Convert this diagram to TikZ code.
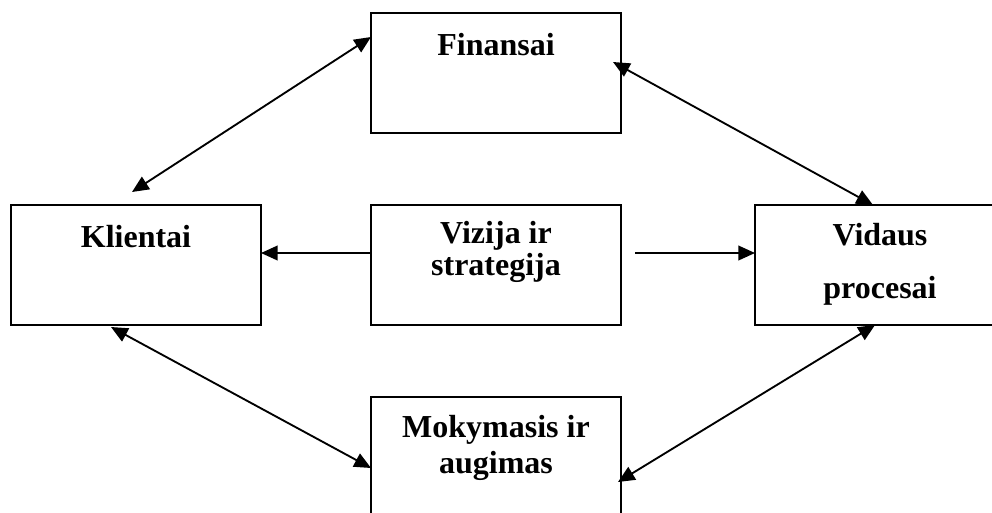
\documentclass[tikz,border=0pt]{standalone}
\usepackage{fontspec}
\setmainfont{Liberation Serif}
\usetikzlibrary{arrows.meta,calc}
\begin{document}
\begin{tikzpicture}[x=0.75pt,y=-0.75pt,
  >={Triangle[length=12.5pt,width=11pt]},
  box/.style={draw, line width=1.4pt, rectangle, minimum width=187.5pt, minimum height=90pt, inner sep=0pt, outer sep=0pt},
  lbl/.style={anchor=base, inner sep=0pt, font=\bfseries\fontsize{24}{28}\selectfont},
  dbl/.style={line width=1.4pt, <->},
  sgl/.style={line width=1.4pt, ->}]
\useasboundingbox (0,0) rectangle (992,512);
\clip (0,0) rectangle (992,512);
\node[box] (fin) at (496,73) {};
\node[box] (kli) at (136,265) {};
\node[box] (viz) at (496,265) {};
\node[box] (vid) at (880,265) {};
\node[box] (mok) at (496,457) {};
\node[lbl] (fint) at (496,55) {Finansai};
\node[lbl] (klit) at (136,247) {Klientai};
\node[lbl] (vizt1) at (496,243) {Vizija ir};
\node[lbl] (vizt2) at (496,275) {strategija};
\node[lbl] (vidt1) at (880,245) {Vidaus};
\node[lbl] (vidt2) at (880,298) {procesai};
\node[lbl] (mokt1) at (496,437) {Mokymasis ir};
\node[lbl] (mokt2) at (496,473) {augimas};
\draw[dbl] ($(fin.north west)+(0,24)$) -- ($(kli.north west)+(121,-13)$);
\draw[dbl] ($(fin.north east)+(-8,49)$) -- ($(vid.north west)+(118,0)$);
\draw[sgl] ($(viz.west)+(0,-12)$) -- ($(kli.east)+(0,-12)$);
\draw[sgl] ($(viz.east)+(14,-12)$) -- ($(vid.west)+(0,-12)$);
\draw[dbl] ($(kli.south west)+(100,2)$) -- ($(mok.north west)+(0,71)$);
\draw[dbl] ($(vid.south west)+(120,0)$) -- ($(mok.north east)+(-3,85)$);
\end{tikzpicture}
\end{document}
